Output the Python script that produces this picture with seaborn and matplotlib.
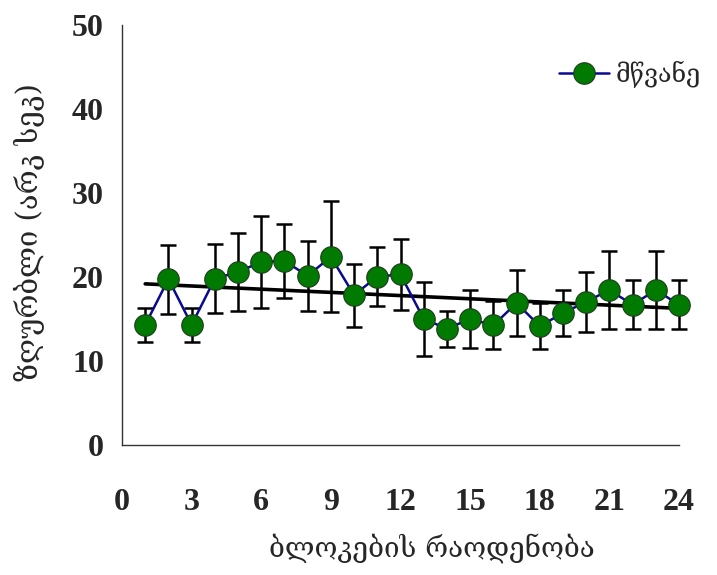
import numpy as np
import pandas as pd
import matplotlib
matplotlib.use("Agg")
import matplotlib.pyplot as plt
import seaborn as sns

# Threshold per block, with symmetric error bars
blocks = list(range(1, 25))
threshold = [14.3, 19.75, 14.3, 19.8, 20.6, 21.8, 21.9, 20.15, 22.4, 17.85, 20.05, 20.3,
             15.0, 13.85, 15.0, 14.25, 16.9, 14.15, 15.7, 17.05, 18.45, 16.7, 18.45, 16.7]
error = [2.05, 4.1, 2.05, 4.1, 4.6, 5.5, 4.4, 4.15, 6.6, 3.75, 3.5, 4.2,
         4.4, 2.15, 3.45, 2.85, 3.9, 2.75, 2.7, 3.55, 4.65, 2.9, 4.65, 2.9]
x_ticks = [0, 3, 6, 9, 12, 15, 18, 21, 24]
y_ticks = [0, 10, 20, 30, 40, 50]

series_name = "მწვანე"
x_label = "ბლოკების რაოდენობა"
y_label = "ზღურბლი (არკ სეკ)"

df = pd.DataFrame({"block": blocks, "threshold": threshold, "error": error})

sns.set_style("white")
num_font = ["Liberation Serif", "DejaVu Serif"]
geo_font = ["DejaVu Serif", "DejaVu Sans"]

fig = plt.figure(figsize=(7.17, 5.75), dpi=100)
ax = fig.add_axes([122 / 717, 1 - 445 / 575, 557 / 717, 420 / 575])

# error bars
eb = ax.errorbar(df["block"], df["threshold"], yerr=df["error"], fmt="none",
                 ecolor="black", elinewidth=1.8, capsize=6, capthick=1.8, zorder=2)
for artist in eb.lines[1] + eb.lines[2]:
    artist.set_clip_on(False)

# linear trend
sns.regplot(data=df, x="block", y="threshold", scatter=False, ci=None, ax=ax,
            line_kws=dict(color="black", lw=2.6, zorder=3), truncate=True)

# mean line with markers
sns.lineplot(data=df, x="block", y="threshold", ax=ax, color="#0a0a90", lw=1.8,
             marker="o", markersize=15.5, markerfacecolor="#007A00",
             markeredgecolor="#1f3a1f", markeredgewidth=0.8, label=series_name,
             zorder=4, clip_on=False)

ax.set_xlim(0, 24)
ax.set_ylim(0, 50)
ax.set_xticks(x_ticks)
ax.set_yticks(y_ticks)
ax.set_xticklabels([str(t) for t in x_ticks], fontfamily=num_font, fontweight="bold", fontsize=23)
ax.set_yticklabels([str(t) for t in y_ticks], fontfamily=num_font, fontweight="bold", fontsize=23)
ax.tick_params(axis="both", direction="out", length=9, width=1.0, color="#333333")
ax.tick_params(axis="x", pad=22)
ax.tick_params(axis="y", pad=4)

for side in ["top", "right"]:
    ax.spines[side].set_visible(False)
for side in ["left", "bottom"]:
    ax.spines[side].set_color("#333333")
    ax.spines[side].set_linewidth(1.0)

ax.set_xlabel(x_label, fontfamily=geo_font, fontsize=20, va="center")
ax.set_ylabel(y_label, fontfamily=geo_font, fontsize=21, va="center")
ax.xaxis.set_label_coords((432 - 122) / 557, (445 - 548) / 420)
ax.yaxis.set_label_coords((29 - 122) / 557, (445 - 232) / 420)

leg = ax.legend(loc="center left", bbox_to_anchor=(0.745, 0.882), frameon=False,
                handlelength=2.0, handletextpad=0.25,
                prop=dict(family=geo_font, size=18))

fig.savefig("out.png", dpi=100)
